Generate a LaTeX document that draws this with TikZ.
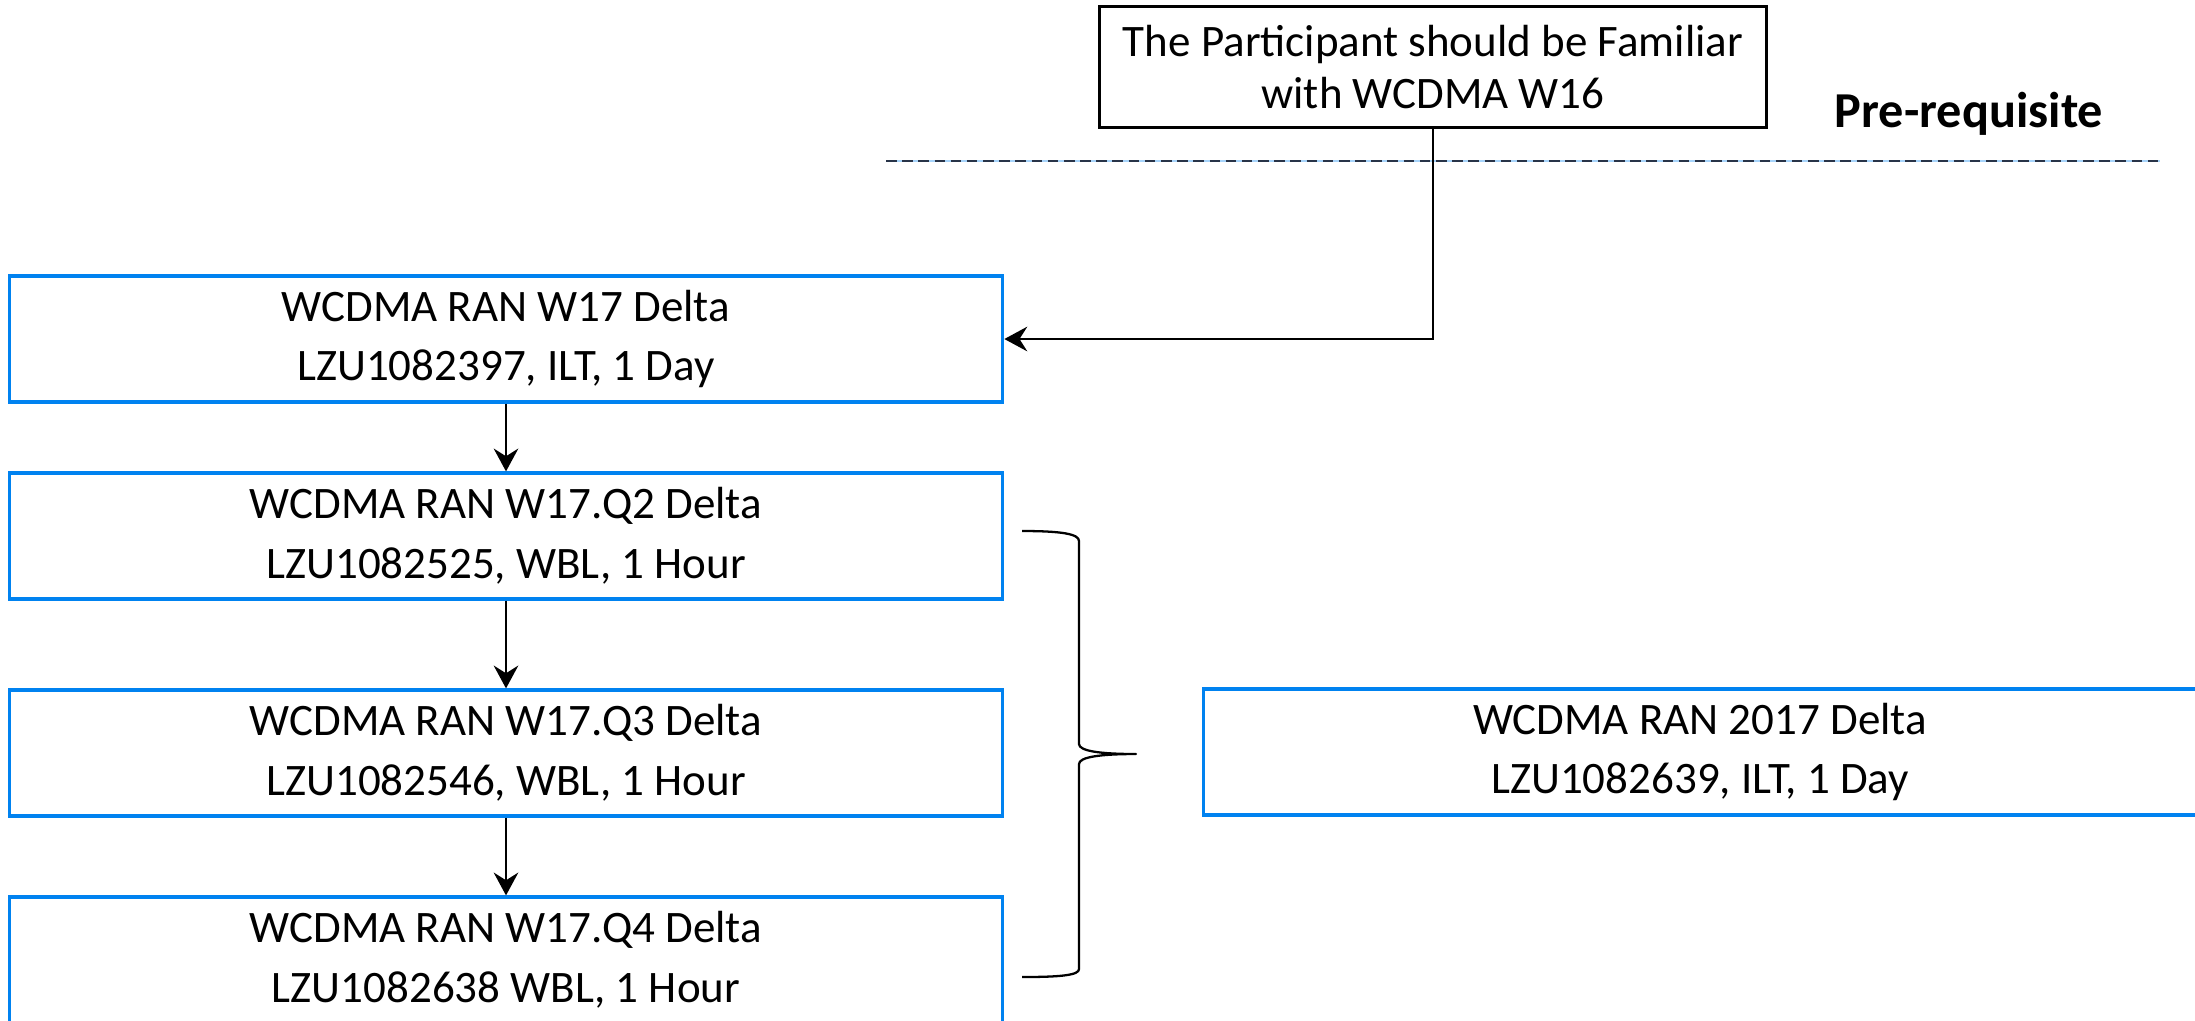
\documentclass[tikz,border=0pt]{standalone}
\usepackage{fontspec}
\setmainfont{Carlito}
\usetikzlibrary{arrows.meta}

\definecolor{coursblue}{RGB}{0,130,240}
\definecolor{sepgrey}{RGB}{40,52,72}

\tikzstyle{course} = [draw=coursblue, line width=0.9pt, minimum width=9.93cm, minimum height=1.26cm, align=center, font=\fontsize{12.8}{17}\selectfont]
\tikzstyle{prereqbox} = [draw=black, line width=0.85pt, minimum width=6.67cm, minimum height=1.2cm, align=center, font=\fontsize{12.8}{14.8}\selectfont]
\tikzstyle{arrow} = [line width=0.65pt,-{Stealth[length=6.5pt,width=7pt,inset=2.2pt]}]
\tikzstyle{sepline} = [line width=0.6pt, draw=sepgrey, dash pattern=on 3pt off 1.6pt, preaction={draw=coursblue!35, solid, line width=0.4pt}]
\tikzstyle{brace} = [line width=0.65pt, line join=round]

\begin{document}
\begin{tikzpicture}[x=0.01cm,y=-0.01cm]
\useasboundingbox (0,0) rectangle (2195,1020);

% Pre-requisite
\node [prereqbox] (prereq) at (1433,67) {The Participant should be Familiar\\with WCDMA W16};
\node [anchor=base, font=\bfseries\fontsize{14.3}{16}\selectfont] (prelabel) at (1969,127) {Pre-requisite};

% separation line
\coordinate (sepL) at (886,161);
\coordinate (sepR) at (2160,161);
\draw [sepline] (sepL) -- (sepR);

% Courses
\node [course] (w17) at (506,339) {WCDMA RAN W17 Delta\\LZU1082397, ILT, 1 Day};
\node [course] (q2) at (506,536) {WCDMA RAN W17.Q2 Delta\\LZU1082525, WBL, 1 Hour};
\node [course] (q3) at (506,753) {WCDMA RAN W17.Q3 Delta\\LZU1082546, WBL, 1 Hour};
\node [course] (q4) at (506,960) {WCDMA RAN W17.Q4 Delta\\LZU1082638 WBL, 1 Hour};
\node [course] (d2017) at (1700,752) {WCDMA RAN 2017 Delta\\LZU1082639, ILT, 1 Day};

% Arrows
\draw [arrow] (prereq.south) |- (w17.east);
\draw [arrow] (w17) -- (q2);
\draw [arrow] (q2) -- (q3);
\draw [arrow] (q3) -- (q4);

% Brace round the quarterly deltas
\coordinate (brtop) at (1022,531);
\coordinate (brtip) at (1136,754);
\coordinate (brbot) at (1022,977);
\draw [brace] (brtop) .. controls (1062,531) and (1079,534) .. (1079,541) -- (1079,744)
  .. controls (1079,751) and (1100,754) .. (brtip)
  .. controls (1100,754) and (1079,757) .. (1079,764) -- (1079,969)
  .. controls (1079,975) and (1062,977) .. (brbot);

\end{tikzpicture}
\end{document}
